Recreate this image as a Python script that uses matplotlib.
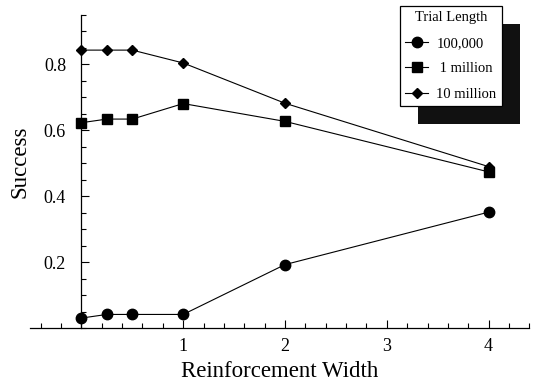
import numpy as np
import matplotlib.pyplot as plt
from matplotlib.patches import Rectangle
from matplotlib.ticker import MultipleLocator, FixedLocator

plt.rcParams['font.family'] = ['Liberation Serif', 'DejaVu Serif']

# reinforcement width
widths = [0, 0.25, 0.5, 1, 2, 4]
# success for each trial length
s_100k = [0.031, 0.042, 0.042, 0.042, 0.193, 0.352]
s_1m = [0.623, 0.634, 0.634, 0.681, 0.627, 0.474]
s_10m = [0.843, 0.843, 0.843, 0.804, 0.682, 0.490]
series_labels = ["100,000", " 1 million", "10 million"]

fig = plt.figure(figsize=(5.38, 3.86), dpi=100)
ax = fig.add_axes([30.5 / 538, 57.7 / 386, 498.8 / 538, 313.5 / 386])

ax.plot(widths, s_100k, color="black", lw=0.8, marker="o", ms=7.5, label=series_labels[0])
ax.plot(widths, s_1m, color="black", lw=0.8, marker="s", ms=7, label=series_labels[1])
ax.plot(widths, s_10m, color="black", lw=0.8, marker="D", ms=5.5, label=series_labels[2])

ax.set_xlim(-0.5, 4.4)
ax.set_ylim(0, 0.95)

# mathematica style axes through the origin
ax.spines["left"].set_position(("data", 0))
ax.spines["bottom"].set_position(("data", 0))
ax.spines["right"].set_visible(False)
ax.spines["top"].set_visible(False)
for sp in ["left", "bottom"]:
    ax.spines[sp].set_linewidth(0.9)

ax.xaxis.set_major_locator(FixedLocator([1, 2, 3, 4]))
ax.xaxis.set_minor_locator(MultipleLocator(0.2))
ax.yaxis.set_major_locator(FixedLocator([0.2, 0.4, 0.6, 0.8]))
ax.yaxis.set_minor_locator(MultipleLocator(0.05))
ax.tick_params(which="both", direction="in", width=0.8)
ax.tick_params(which="major", length=6)
ax.tick_params(which="minor", length=3.5)
ax.tick_params(axis="x", which="major", labelsize=13, pad=7)
ax.tick_params(axis="y", which="major", labelsize=13, pad=11)

ax.set_xlabel("Reinforcement Width", fontsize=16.5)
ax.set_ylabel("Success", fontsize=16.5)
ax.xaxis.set_label_coords(0.5, -0.139)
ax.yaxis.set_label_coords(-0.021, 0.532)
ax.xaxis.label.set_va("center")
ax.yaxis.label.set_va("center")

leg = fig.legend(loc="upper left", bbox_to_anchor=(400 / 538, 1 - 6 / 386),
                 borderaxespad=0, title="Trial Length", fontsize=10.5,
                 title_fontsize=10.5, fancybox=False, edgecolor="black",
                 framealpha=1, handlelength=1.6, handletextpad=0.55,
                 labelspacing=0.85, borderpad=0.35)
leg.get_frame().set_linewidth(0.9)
leg.set_zorder(6)

# black offset shadow behind the legend box
fig.canvas.draw()
bb = leg.get_window_extent().transformed(fig.transFigure.inverted())
fig.patches.append(Rectangle((bb.x0 + 18 / 538, bb.y0 - 18 / 386), bb.width, bb.height,
                             transform=fig.transFigure, facecolor="#111111",
                             edgecolor="none", zorder=5))

fig.savefig("out.png", dpi=100)
